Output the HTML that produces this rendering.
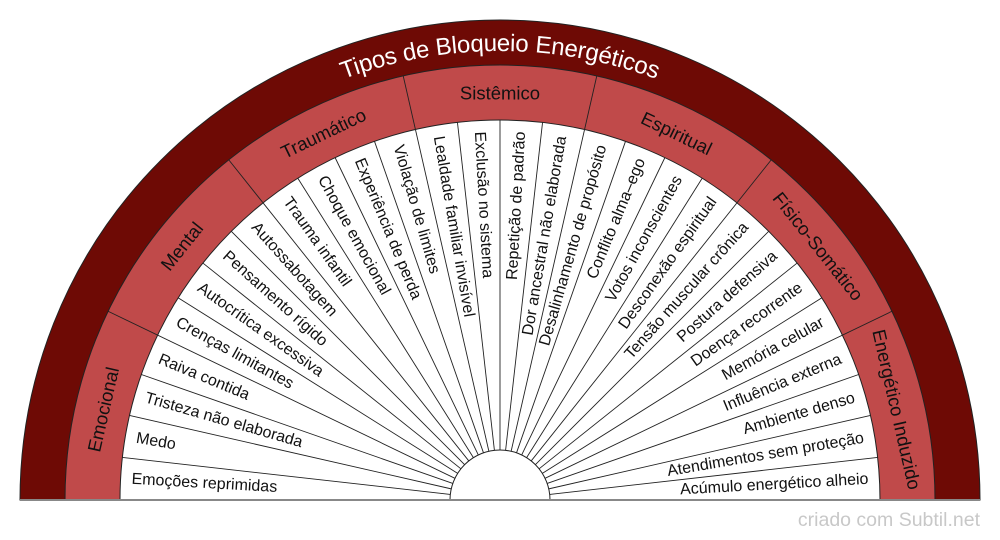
<!DOCTYPE html>
<html><head><meta charset="utf-8"><style>
html,body{margin:0;padding:0;background:#fff;}
svg{display:block;font-family:"Liberation Sans",Arial,sans-serif;}
.it{font-size:16px;fill:#111;dominant-baseline:central;}
.ct{font-size:18.5px;fill:#111;dominant-baseline:central;text-anchor:middle;}
.dl{stroke:#222;stroke-width:0.9;}
</style></head><body>
<svg width="1000" height="540" viewBox="0 0 1000 540" xmlns="http://www.w3.org/2000/svg">
<path d="M20 500 A480 480 0 0 1 980 500 Z" fill="#6e0a05" stroke="#222" stroke-width="1"/>
<path d="M65 500 A435 435 0 0 1 935 500 Z" fill="#c04a4a" stroke="#222" stroke-width="1"/>
<path d="M120 500 A380 380 0 0 1 880 500 Z" fill="#fff" stroke="#222" stroke-width="1"/>
<path d="M450 500 A50 50 0 0 1 550 500 Z" fill="#fff" stroke="#222" stroke-width="1"/>
<g class="dl">
<line x1="450" y1="500" x2="120" y2="500" transform="rotate(6.429 500 500)"/>
<line x1="450" y1="500" x2="120" y2="500" transform="rotate(12.857 500 500)"/>
<line x1="450" y1="500" x2="120" y2="500" transform="rotate(19.286 500 500)"/>
<line x1="450" y1="500" x2="65" y2="500" transform="rotate(25.714 500 500)"/>
<line x1="450" y1="500" x2="120" y2="500" transform="rotate(32.143 500 500)"/>
<line x1="450" y1="500" x2="120" y2="500" transform="rotate(38.571 500 500)"/>
<line x1="450" y1="500" x2="120" y2="500" transform="rotate(45 500 500)"/>
<line x1="450" y1="500" x2="65" y2="500" transform="rotate(51.429 500 500)"/>
<line x1="450" y1="500" x2="120" y2="500" transform="rotate(57.857 500 500)"/>
<line x1="450" y1="500" x2="120" y2="500" transform="rotate(64.286 500 500)"/>
<line x1="450" y1="500" x2="120" y2="500" transform="rotate(70.714 500 500)"/>
<line x1="450" y1="500" x2="65" y2="500" transform="rotate(77.143 500 500)"/>
<line x1="450" y1="500" x2="120" y2="500" transform="rotate(83.571 500 500)"/>
<line x1="450" y1="500" x2="120" y2="500" transform="rotate(90 500 500)"/>
<line x1="450" y1="500" x2="120" y2="500" transform="rotate(96.429 500 500)"/>
<line x1="450" y1="500" x2="65" y2="500" transform="rotate(102.857 500 500)"/>
<line x1="450" y1="500" x2="120" y2="500" transform="rotate(109.286 500 500)"/>
<line x1="450" y1="500" x2="120" y2="500" transform="rotate(115.714 500 500)"/>
<line x1="450" y1="500" x2="120" y2="500" transform="rotate(122.143 500 500)"/>
<line x1="450" y1="500" x2="65" y2="500" transform="rotate(128.571 500 500)"/>
<line x1="450" y1="500" x2="120" y2="500" transform="rotate(135 500 500)"/>
<line x1="450" y1="500" x2="120" y2="500" transform="rotate(141.429 500 500)"/>
<line x1="450" y1="500" x2="120" y2="500" transform="rotate(147.857 500 500)"/>
<line x1="450" y1="500" x2="65" y2="500" transform="rotate(154.286 500 500)"/>
<line x1="450" y1="500" x2="120" y2="500" transform="rotate(160.714 500 500)"/>
<line x1="450" y1="500" x2="120" y2="500" transform="rotate(167.143 500 500)"/>
<line x1="450" y1="500" x2="120" y2="500" transform="rotate(173.571 500 500)"/>
</g>
<line x1="20" y1="500" x2="980" y2="500" stroke="#888" stroke-width="2"/>
<g class="it">
<text x="131" y="500" transform="rotate(3.214 500 500)">Emoções reprimidas</text>
<text x="131" y="500" transform="rotate(9.643 500 500)">Medo</text>
<text x="131" y="500" transform="rotate(16.071 500 500)">Tristeza não elaborada</text>
<text x="131" y="500" transform="rotate(22.5 500 500)">Raiva contida</text>
<text x="131" y="500" transform="rotate(28.929 500 500)">Crenças limitantes</text>
<text x="131" y="500" transform="rotate(35.357 500 500)">Autocrítica excessiva</text>
<text x="131" y="500" transform="rotate(41.786 500 500)">Pensamento rígido</text>
<text x="131" y="500" transform="rotate(48.214 500 500)">Autossabotagem</text>
<text x="131" y="500" transform="rotate(54.643 500 500)">Trauma infantil</text>
<text x="131" y="500" transform="rotate(61.071 500 500)">Choque emocional</text>
<text x="131" y="500" transform="rotate(67.5 500 500)">Experiência de perda</text>
<text x="131" y="500" transform="rotate(73.929 500 500)">Violação de limites</text>
<text x="131" y="500" transform="rotate(80.357 500 500)">Lealdade familiar invisível</text>
<text x="131" y="500" transform="rotate(86.786 500 500)">Exclusão no sistema</text>
</g>
<g class="it" text-anchor="end">
<text x="869" y="500" transform="rotate(-86.786 500 500)">Repetição de padrão</text>
<text x="869" y="500" transform="rotate(-80.357 500 500)">Dor ancestral não elaborada</text>
<text x="869" y="500" transform="rotate(-73.929 500 500)">Desalinhamento de propósito</text>
<text x="869" y="500" transform="rotate(-67.5 500 500)">Conflito alma–ego</text>
<text x="869" y="500" transform="rotate(-61.071 500 500)">Votos inconscientes</text>
<text x="869" y="500" transform="rotate(-54.643 500 500)">Desconexão espiritual</text>
<text x="869" y="500" transform="rotate(-48.214 500 500)">Tensão muscular crônica</text>
<text x="869" y="500" transform="rotate(-41.786 500 500)">Postura defensiva</text>
<text x="869" y="500" transform="rotate(-35.357 500 500)">Doença recorrente</text>
<text x="869" y="500" transform="rotate(-28.929 500 500)">Memória celular</text>
<text x="869" y="500" transform="rotate(-22.5 500 500)">Influência externa</text>
<text x="869" y="500" transform="rotate(-16.071 500 500)">Ambiente denso</text>
<text x="869" y="500" transform="rotate(-9.643 500 500)">Atendimentos sem proteção</text>
<text x="869" y="500" transform="rotate(-3.214 500 500)">Acúmulo energético alheio</text>
</g>
<g class="ct">
<text x="93" y="500" transform="rotate(12.857 500 500) rotate(-90 93 500)">Emocional</text>
<text x="93" y="500" transform="rotate(38.571 500 500) rotate(-90 93 500)">Mental</text>
<text x="93" y="500" transform="rotate(64.286 500 500) rotate(-90 93 500)">Traumático</text>
<text x="93" y="500" transform="rotate(90 500 500) rotate(-90 93 500)">Sistêmico</text>
<text x="93" y="500" transform="rotate(115.714 500 500) rotate(-90 93 500)">Espiritual</text>
<text x="93" y="500" transform="rotate(141.429 500 500) rotate(-90 93 500)">Físico-Somático</text>
<text x="93" y="500" transform="rotate(167.143 500 500) rotate(-90 93 500)">Energético Induzido</text>
</g>
<path id="tp" d="M43 500 A457 457 0 0 1 957 500" fill="none"/>
<text font-size="24" fill="#fff" text-anchor="middle" dominant-baseline="central"><textPath href="#tp" startOffset="50%">Tipos de Bloqueio Energéticos</textPath></text>
<text x="980" y="526" font-size="19.5" fill="#c8c8c8" text-anchor="end">criado com Subtil.net</text>
</svg>
</body></html>
